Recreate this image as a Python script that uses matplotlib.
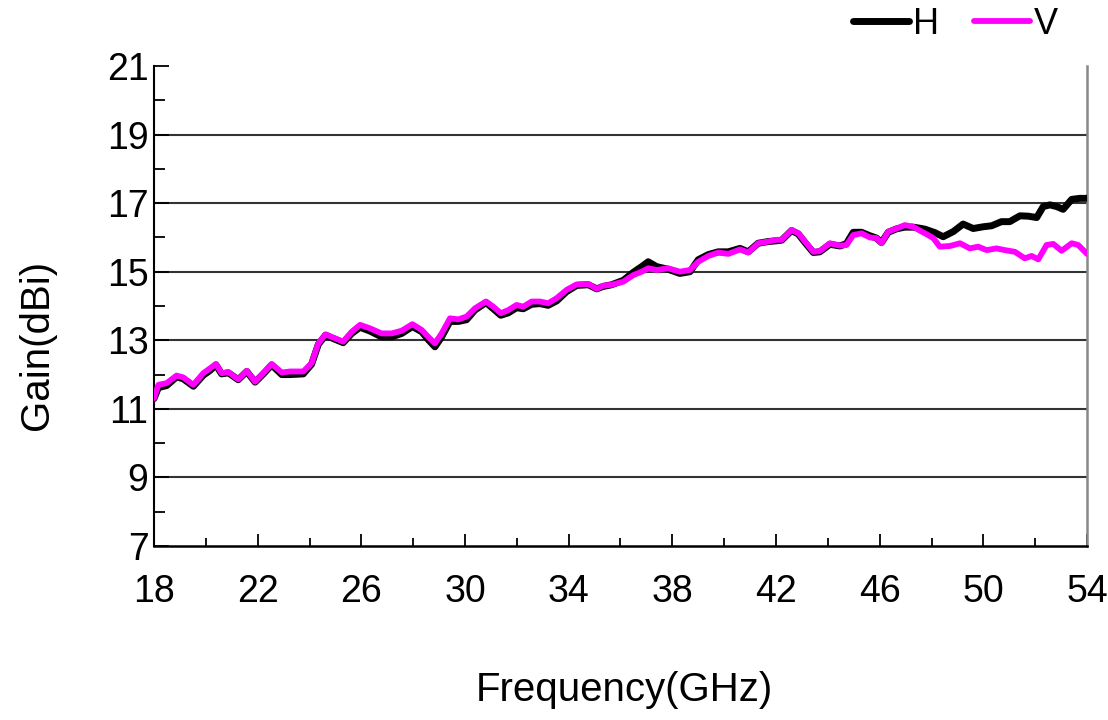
import matplotlib
matplotlib.use("Agg")
import matplotlib.pyplot as plt
from matplotlib.ticker import MultipleLocator

plt.rcParams['font.family'] = ['Liberation Sans', 'DejaVu Sans']

freq_v = [18.0, 18.17, 18.49, 18.87, 19.12, 19.52, 19.9, 20.16, 20.39, 20.61, 20.87, 21.25, 21.58, 21.9,
          22.22, 22.54, 22.93, 23.25, 23.76, 24.08, 24.34, 24.62, 24.98, 25.3, 25.63, 25.95, 26.33, 26.78,
          27.17, 27.56, 27.97, 28.33, 28.58, 28.84, 29.1, 29.42, 29.74, 30.06, 30.38, 30.81, 31.09, 31.38,
          31.67, 31.99, 32.25, 32.57, 32.89, 33.21, 33.54, 33.92, 34.31, 34.76, 35.08, 35.33, 35.66, 36.11,
          36.49, 36.82, 37.07, 37.39, 37.84, 38.29, 38.68, 39.0, 39.39, 39.77, 40.16, 40.61, 40.93, 41.31,
          41.7, 42.0, 42.22, 42.6, 42.86, 43.12, 43.44, 43.69, 44.08, 44.47, 44.72, 44.98, 45.3, 45.62,
          45.88, 46.07, 46.33, 46.65, 46.97, 47.29, 47.62, 47.75, 48.07, 48.32, 48.71, 49.1, 49.48, 49.8,
          50.13, 50.51, 50.83, 51.22, 51.6, 51.86, 52.12, 52.44, 52.7, 53.02, 53.41, 53.66, 54.0]
gain_v = [11.31, 11.70, 11.75, 11.97, 11.92, 11.70, 12.04, 12.18, 12.31, 12.04, 12.07, 11.86, 12.11, 11.79,
          12.04, 12.31, 12.06, 12.09, 12.09, 12.33, 12.91, 13.17, 13.06, 12.96, 13.25, 13.45, 13.35, 13.2,
          13.2, 13.28, 13.47, 13.3, 13.1, 12.91, 13.2, 13.64, 13.61, 13.69, 13.93, 14.13, 13.98, 13.79,
          13.88, 14.03, 13.98, 14.13, 14.13, 14.08, 14.23, 14.47, 14.63, 14.64, 14.5, 14.59, 14.62, 14.71,
          14.9, 15.0, 15.1, 15.05, 15.1, 15.0, 15.05, 15.29, 15.46, 15.56, 15.52, 15.65, 15.56, 15.83,
          15.88, 15.93, 15.93, 16.22, 16.12, 15.88, 15.58, 15.6, 15.83, 15.76, 15.78, 16.07, 16.12, 16.0,
          15.98, 15.83, 16.17, 16.26, 16.36, 16.31, 16.17, 16.12, 15.98, 15.73, 15.75, 15.83, 15.68, 15.73,
          15.63, 15.68, 15.63, 15.58, 15.39, 15.46, 15.36, 15.78, 15.81, 15.61, 15.83, 15.78, 15.52]

freq_h = [18.0, 18.17, 18.49, 18.87, 19.12, 19.52, 19.9, 20.16, 20.39, 20.61, 20.87, 21.25, 21.58, 21.9,
          22.22, 22.54, 22.93, 23.25, 23.76, 24.08, 24.34, 24.62, 24.98, 25.3, 25.63, 25.95, 26.33, 26.78,
          27.17, 27.56, 27.97, 28.33, 28.58, 28.84, 29.1, 29.42, 29.74, 30.06, 30.38, 30.81, 31.09, 31.38,
          31.67, 31.99, 32.25, 32.57, 32.89, 33.21, 33.54, 33.92, 34.31, 34.76, 35.08, 35.33, 35.66, 36.11,
          36.49, 36.82, 37.07, 37.39, 37.84, 38.29, 38.68, 39.0, 39.39, 39.77, 40.16, 40.61, 40.93, 41.31,
          41.7, 42.0, 42.22, 42.6, 42.86, 43.12, 43.44, 43.69, 44.08, 44.47, 44.72, 44.98, 45.3, 45.62,
          45.88, 46.07, 46.33, 46.65, 46.97, 47.29, 47.62, 47.75, 48.13, 48.45, 48.84, 49.22, 49.61, 49.99,
          50.32, 50.7, 51.02, 51.41, 51.73, 52.06, 52.31, 52.57, 52.83, 53.08, 53.41, 53.72, 54.0]
gain_h = [11.3, 11.62, 11.68, 11.93, 11.88, 11.66, 11.98, 12.12, 12.28, 12.02, 12.05, 11.85, 12.09, 11.78,
          12.02, 12.28, 12.0, 12.0, 12.02, 12.3, 12.88, 13.15, 13.03, 12.93, 13.2, 13.38, 13.27, 13.1,
          13.1, 13.2, 13.4, 13.25, 13.02, 12.81, 13.1, 13.55, 13.55, 13.6, 13.88, 14.1, 13.92, 13.73,
          13.8, 13.95, 13.92, 14.05, 14.07, 14.02, 14.15, 14.42, 14.6, 14.62, 14.5, 14.57, 14.62, 14.75,
          14.98, 15.15, 15.29, 15.15, 15.07, 14.95, 15.0, 15.35, 15.5, 15.58, 15.58, 15.68, 15.58, 15.83,
          15.88, 15.9, 15.92, 16.2, 16.1, 15.85, 15.56, 15.58, 15.8, 15.75, 15.82, 16.15, 16.15, 16.05,
          15.98, 15.85, 16.15, 16.25, 16.3, 16.3, 16.26, 16.24, 16.14, 16.02, 16.17, 16.39, 16.26, 16.31,
          16.34, 16.46, 16.46, 16.63, 16.62, 16.58, 16.9, 16.95, 16.9, 16.82, 17.11, 17.14, 17.14]

x_ticks = [18, 22, 26, 30, 34, 38, 42, 46, 50, 54]
y_ticks = [7, 9, 11, 13, 15, 17, 19, 21]

fig = plt.figure(figsize=(11.08, 7.2), dpi=100)
ax = fig.add_axes([154/1108, 1-546/720, (1087-154)/1108, (546-66)/720])

for y in [9, 11, 13, 15, 17, 19]:
    ax.axhline(y, color='#333333', lw=1.5, zorder=1)

lh, = ax.plot(freq_h, gain_h, color='black', lw=5.0, solid_joinstyle='round',
              solid_capstyle='round', zorder=3, label='H')
lv, = ax.plot(freq_v, gain_v, color='#ff00ff', lw=4.2, solid_joinstyle='round',
              solid_capstyle='round', zorder=4, label='V')

ax.set_xlim(18, 54)
ax.set_ylim(7, 21)
ax.set_xticks(x_ticks)
ax.set_yticks(y_ticks)
ax.xaxis.set_minor_locator(MultipleLocator(2))
ax.yaxis.set_minor_locator(MultipleLocator(1))
ax.tick_params(axis='both', which='both', direction='in', labelsize=27, color='black')
ax.tick_params(axis='x', which='major', length=9, width=1.3, pad=20)
ax.tick_params(axis='x', which='minor', length=6, width=1.3)
ax.tick_params(axis='y', which='major', length=11, width=1.3, pad=4)
ax.tick_params(axis='y', which='minor', length=8, width=1.3)

ax.spines['top'].set_visible(False)
ax.spines['left'].set_linewidth(1.5)
ax.spines['bottom'].set_linewidth(1.8)
ax.spines['right'].set_color('#888888')
ax.spines['right'].set_linewidth(1.8)

fig.text(37/1108, 1-(265+425)/2/720, 'Gain(dBi)', rotation=90, fontsize=29,
         ha='center', va='center')
fig.text((470+778)/2/1108, 1-690/720, 'Frequency(GHz)', fontsize=29,
         ha='center', va='center')

fig.legend(handles=[lh, lv], loc='center left', bbox_to_anchor=(853/1108, 1-24/720),
           bbox_transform=fig.transFigure, ncol=2, frameon=False, fontsize=26,
           handlelength=1.55, handletextpad=0.12, columnspacing=0.95, borderpad=0,
           borderaxespad=0)

fig.savefig('out.png', dpi=100)
